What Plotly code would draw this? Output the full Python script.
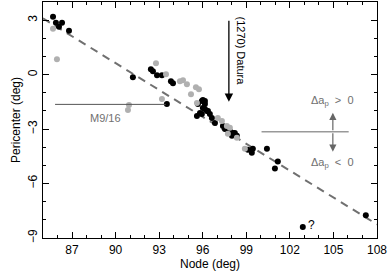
import plotly.graph_objects as go

# Data
black_node = [85.69, 85.89, 86.31, 86.10, 86.79, 91.19, 92.43, 92.57, 92.85, 93.19,
              93.81, 93.95, 93.53, 96.01, 96.15, 96.15, 95.81, 96.36, 95.67, 95.94,
              96.15, 96.01, 95.94, 96.29, 96.49, 96.63, 96.84, 97.39, 97.53, 97.87,
              98.01, 98.21, 98.35, 95.60, 98.08, 99.11, 99.38, 99.45, 100.42, 101.17,
              100.97, 107.23, 102.89]
black_peri = [3.19, 2.86, 2.86, 2.64, 2.42, -0.15, 0.29, 0.18, -0.04, -0.04,
              -0.37, -0.48, -1.62, -1.40, -1.62, -1.90, -2.11, -2.00, -1.62, -1.46,
              -1.46, -1.84, -2.17, -2.01, -2.17, -2.39, -2.66, -2.83, -2.99, -3.10,
              -3.37, -3.21, -3.37, -2.28, -3.21, -4.14, -4.30, -4.08, -4.08, -4.79,
              -5.17, -7.74, -8.40]

gray_node = [85.69, 85.96, 92.78, 93.47, 94.43, 94.64, 94.91, 95.53, 95.74, 95.19,
             93.19, 90.92, 90.85, 95.60, 97.04, 97.32, 97.66, 97.87, 97.73, 98.35, 98.90]
gray_peri = [2.53, 0.84, 0.62, 0.02, -0.37, -0.31, -0.53, -0.69, -0.80, -1.08,
             -1.35, -1.68, -1.95, -1.57, -2.39, -2.55, -2.83, -2.93, -3.26, -3.48, -4.08]

fit_node = [85.0, 108.0]
fit_peri = [3.10, -8.25]

x_ticks = [87, 90, 93, 96, 99, 102, 105, 108]
y_ticks = [3, 0, -3, -6, -9]
y_ticklabels = ["3", "0", "\u22123", "\u22126", "\u22129"]

FONT = "Liberation Sans, Arial, sans-serif"
GRAYTXT = "#707070"

fig = go.Figure()
fig.add_trace(go.Scatter(x=fit_node, y=fit_peri, mode="lines",
                         line=dict(color="#707070", width=2, dash="8px,6px"),
                         hoverinfo="skip", showlegend=False))
fig.add_trace(go.Scatter(x=black_node, y=black_peri, mode="markers",
                         marker=dict(color="black", size=6), showlegend=False))
fig.add_trace(go.Scatter(x=gray_node, y=gray_peri, mode="markers",
                         marker=dict(color="#b0b0b0", size=6), showlegend=False))

# M9/16 line
fig.add_shape(type="line", x0=85.83, x1=93.45, y0=-1.64, y1=-1.64,
              line=dict(color="#555555", width=1))
fig.add_annotation(x=89.27, y=-2.4, text="M9/16", showarrow=False,
                   font=dict(family=FONT, size=11, color=GRAYTXT))

# Datura arrow
fig.add_annotation(x=97.8, y=-1.5, ax=97.8, ay=3.05, xref="x", yref="y",
                   axref="x", ayref="y", showarrow=True, arrowhead=2,
                   arrowsize=1.3, arrowwidth=1.3, arrowcolor="black", text="")
fig.add_annotation(x=98.6, y=1.3, text="(1270) Datura", textangle=90,
                   showarrow=False, font=dict(family=FONT, size=11, color="black"))

# Right-hand delta-a marker
fig.add_shape(type="line", x0=100.05, x1=106.05, y0=-3.15, y1=-3.15,
              line=dict(color="#999999", width=1.5))
fig.add_annotation(x=104.96, y=-2.1, ax=104.96, ay=-3.15, xref="x", yref="y",
                   axref="x", ayref="y", showarrow=True, arrowhead=2,
                   arrowsize=1.2, arrowwidth=1.2, arrowcolor="#666666", text="")
fig.add_annotation(x=104.96, y=-4.25, ax=104.96, ay=-3.15, xref="x", yref="y",
                   axref="x", ayref="y", showarrow=True, arrowhead=2,
                   arrowsize=1.2, arrowwidth=1.2, arrowcolor="#666666", text="")
fig.add_annotation(x=104.96, y=-1.45, text="\u0394a<sub>p</sub>  >  0", showarrow=False,
                   font=dict(family=FONT, size=11, color=GRAYTXT))
fig.add_annotation(x=104.96, y=-4.85, text="\u0394a<sub>p</sub>  <  0", showarrow=False,
                   font=dict(family=FONT, size=11, color=GRAYTXT))
fig.add_annotation(x=103.5, y=-8.3, text="?", showarrow=False,
                   font=dict(family=FONT, size=12, color="black"))

axis_common = dict(showgrid=False, zeroline=False, showline=True, linecolor="black",
                   linewidth=1.3, mirror="ticks", ticks="inside", ticklen=6,
                   tickwidth=1, tickcolor="black",
                   tickfont=dict(family=FONT, size=12, color="black"),
                   minor=dict(ticks="inside", ticklen=3, dtick=1, tickcolor="black",
                              tickwidth=1, showgrid=False))

fig.update_xaxes(range=[85, 108], tickvals=x_ticks,
                 title=dict(text="Node (deg)", font=dict(family=FONT, size=12, color="black"),
                            standoff=4),
                 **axis_common)
fig.update_yaxes(range=[-9, 4], tickvals=y_ticks, ticktext=y_ticklabels, tickangle=-90,
                 title=dict(text="Pericenter (deg)", font=dict(family=FONT, size=12, color="black"),
                            standoff=2),
                 **axis_common)

fig.update_layout(width=390, height=275, plot_bgcolor="white", paper_bgcolor="white",
                  margin=dict(l=43, r=13, t=2, b=37), showlegend=False)

fig.write_html("out.html", config={"displayModeBar": False},
               post_script="document.body.style.margin='0';document.body.style.overflow='hidden';")
